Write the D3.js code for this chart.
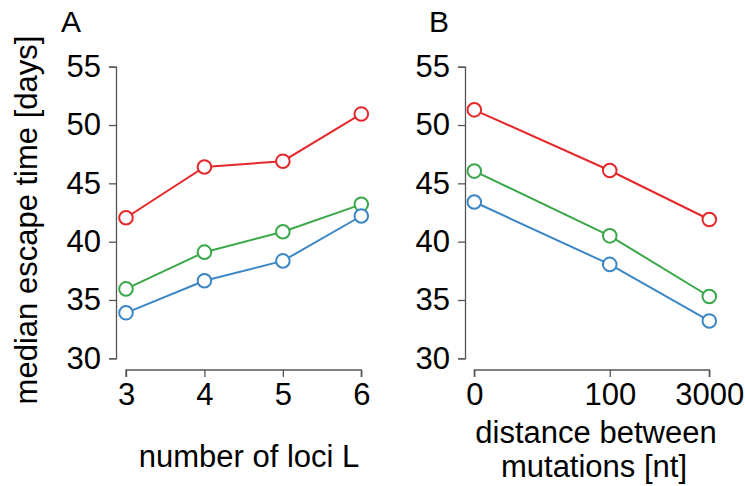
<!DOCTYPE html>
<html>
<head>
<meta charset="utf-8">
<script src="https://cdn.jsdelivr.net/npm/d3@7"></script>
<style>
  body { margin: 0; background: #fff; }
  text { font-family: "Liberation Sans", Arial, Helvetica, sans-serif; fill: #000; }
  .axis path, .axis line { stroke: #555; stroke-width: 1.3; }
</style>
</head>
<body>
<div id="chart"></div>
<script>
var svgWidth = 745;
var svgHeight = 486;

// panel A: number of loci
var lociValues = [3, 4, 5, 6];
var lociRed = [42.05, 46.4, 46.9, 50.95];
var lociGreen = [35.95, 39.1, 40.85, 43.2];
var lociBlue = [33.9, 36.65, 38.35, 42.2];

// panel B: distance between mutations
var distValues = [0, 100, 3000];
var distRed = [51.3, 46.1, 41.9];
var distGreen = [46.05, 40.5, 35.3];
var distBlue = [43.4, 38.05, 33.2];

var yTicks = [30, 35, 40, 45, 50, 55];
var colors = { red: "#e3292b", green: "#3aa84a", blue: "#3b87c6" };

var svg = d3.select("#chart")
  .append("svg")
  .attr("width", svgWidth)
  .attr("height", svgHeight);

var yScale = d3.scaleLinear()
  .domain([30, 55])
  .range([358.3, 66.7]);

var xScaleA = d3.scaleLinear()
  .domain([3, 6])
  .range([126, 361.3]);

// distances look log-spaced: log(1 + d)
var xScaleB = d3.scaleSymlog()
  .constant(1)
  .domain([0, 3000])
  .range([474.3, 709.3]);

function drawPanel(xScale, xVals, series, yAxisX, letter, letterX) {
  var g = svg.append("g");

  var leftAxis = d3.axisLeft(yScale)
    .tickValues(yTicks)
    .tickSize(7)
    .tickPadding(8)
    .tickSizeOuter(7);

  var yAxis = g.append("g")
    .attr("class", "axis")
    .attr("transform", `translate(${yAxisX}, 0)`)
    .call(leftAxis);

  yAxis.selectAll("text")
    .style("font-size", "31px");

  var bottomAxis = d3.axisBottom(xScale)
    .tickValues(xVals)
    .tickFormat(d => d)
    .tickSize(7)
    .tickSizeOuter(0)
    .tickPadding(6);

  var xAxis = g.append("g")
    .attr("class", "axis")
    .attr("transform", "translate(0, 370)")
    .call(bottomAxis);

  // R-style: axis line only spans first to last tick
  xAxis.select(".domain")
    .attr("d", `M${xScale(xVals[0])},7V0H${xScale(xVals[xVals.length - 1])}V7`);

  xAxis.selectAll("text")
    .style("font-size", "31px");

  series.forEach(function(s) {
    var pts = xVals.map((x, i) => [x, s.values[i]]);

    g.append("path")
      .datum(pts)
      .attr("fill", "none")
      .attr("stroke", s.color)
      .attr("stroke-width", 2)
      .attr("d", d3.line()
        .x(d => xScale(d[0]))
        .y(d => yScale(d[1])));

    g.selectAll(null)
      .data(pts)
      .enter()
      .append("circle")
      .attr("cx", d => xScale(d[0]))
      .attr("cy", d => yScale(d[1]))
      .attr("r", 6.8)
      .attr("fill", "#fff")
      .attr("stroke", s.color)
      .attr("stroke-width", 2);
  });

  g.append("text")
    .attr("x", letterX)
    .attr("y", 32)
    .style("font-size", "30px")
    .text(letter);

  return g;
}

var panelA = drawPanel(xScaleA, lociValues, [
  { values: lociRed, color: colors.red },
  { values: lociGreen, color: colors.green },
  { values: lociBlue, color: colors.blue }
], 116, "A", 61);

var panelB = drawPanel(xScaleB, distValues, [
  { values: distRed, color: colors.red },
  { values: distGreen, color: colors.green },
  { values: distBlue, color: colors.blue }
], 465, "B", 429);

svg.append("text")
  .attr("transform", "translate(37, 220) rotate(-90)")
  .attr("text-anchor", "middle")
  .style("font-size", "31px")
  .text("median escape time [days]");

svg.append("text")
  .attr("x", 249)
  .attr("y", 467)
  .attr("text-anchor", "middle")
  .style("font-size", "31px")
  .text("number of loci L");

svg.append("text")
  .attr("x", 596)
  .attr("y", 443)
  .attr("text-anchor", "middle")
  .style("font-size", "31px")
  .text("distance between");

svg.append("text")
  .attr("x", 594)
  .attr("y", 477)
  .attr("text-anchor", "middle")
  .style("font-size", "31px")
  .text("mutations [nt]");
</script>
</body>
</html>
